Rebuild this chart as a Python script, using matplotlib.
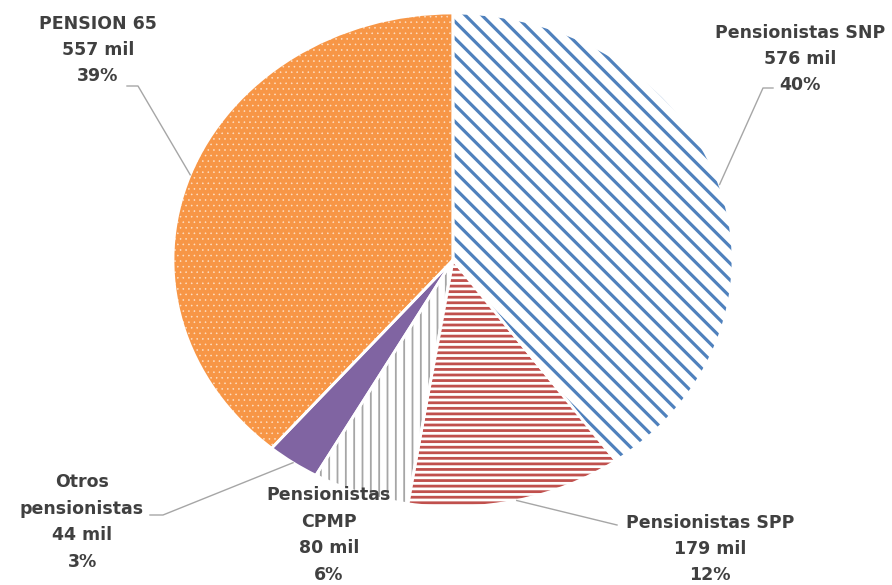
import numpy as np
import matplotlib
matplotlib.use("Agg")
import matplotlib.pyplot as plt

# Pensionistas por régimen (miles)
categorias = ["Pensionistas SNP", "Pensionistas SPP", "Pensionistas\nCPMP",
              "Otros\npensionistas", "PENSION 65"]
valores = [576, 179, 80, 44, 557]
porcentajes = ["40%", "12%", "6%", "3%", "39%"]

colores_fondo = ["white", "white", "white", "#8064A2", "#F79646"]
colores_trama = ["#4F81BD", "#C0504D", "#A6A6A6", "#8064A2", "#FCE0C6"]
tramas = ["\\\\", "---", "||", "", "..."]
grosor_trama = [2.3, 2.0, 1.3, 1.0, 0.4]

TEXT_COLOR = "#404040"
LINE_COLOR = "#A6A6A6"

W, H = 892, 585
CX, CY, RX, RY = 453, 260, 280, 247   # pie center / radii in pixels


def px(x, y):
    # pixel position -> data coords of the pie axes
    return (x - CX) / RX, (CY - y) / RY


fig = plt.figure(figsize=(W / 100, H / 100), dpi=100)
ax = fig.add_axes([0, 0, 1, 1])

wedges, _ = ax.pie(valores, startangle=90, counterclock=False,
                   colors=colores_fondo, radius=1,
                   wedgeprops=dict(linewidth=0))
for w, tr, ct, lw in zip(wedges, tramas, colores_trama, grosor_trama):
    w.set_edgecolor(ct)
    w.set_linewidth(0)
    if tr:
        w.set_hatch(tr)
        if hasattr(w, "set_hatch_linewidth"):
            w.set_hatch_linewidth(lw)

# white separators between slices
ax.pie(valores, startangle=90, counterclock=False, radius=1,
       wedgeprops=dict(facecolor="none", edgecolor="white", linewidth=2))

ax.set_aspect("auto")
x0, y0 = px(0, H)
x1, y1 = px(W, 0)
ax.set_xlim(x0, x1)
ax.set_ylim(y0, y1)
ax.axis("off")

# label text positions (pixel centre of the block) and leader elbows
pos_texto = [(800, 59), (710, 549), (329, 535), (82, 522), (98, 50)]
codos = [[(773, 88), (763, 88)], [(617, 525)], None,
         [(150, 515), (163, 515)], [(127, 86), (138, 86)]]

for w, cat, val, pct, (tx, ty), codo in zip(wedges, categorias, valores,
                                            porcentajes, pos_texto, codos):
    etiqueta = f"{cat}\n{val} mil\n{pct}"
    ax.text(*px(tx, ty), etiqueta, ha="center", va="center",
            fontsize=12.5, fontweight="bold", color=TEXT_COLOR,
            family=["DejaVu Sans"], linespacing=1.6)
    if codo is None:
        continue
    ang = np.deg2rad((w.theta1 + w.theta2) / 2)
    ancla = (np.cos(ang), np.sin(ang))
    pts = [px(*p) for p in codo] + [ancla]
    xs, ys = zip(*pts)
    ax.plot(xs, ys, color=LINE_COLOR, linewidth=1)

fig.savefig("out.png", dpi=100, facecolor="white")
